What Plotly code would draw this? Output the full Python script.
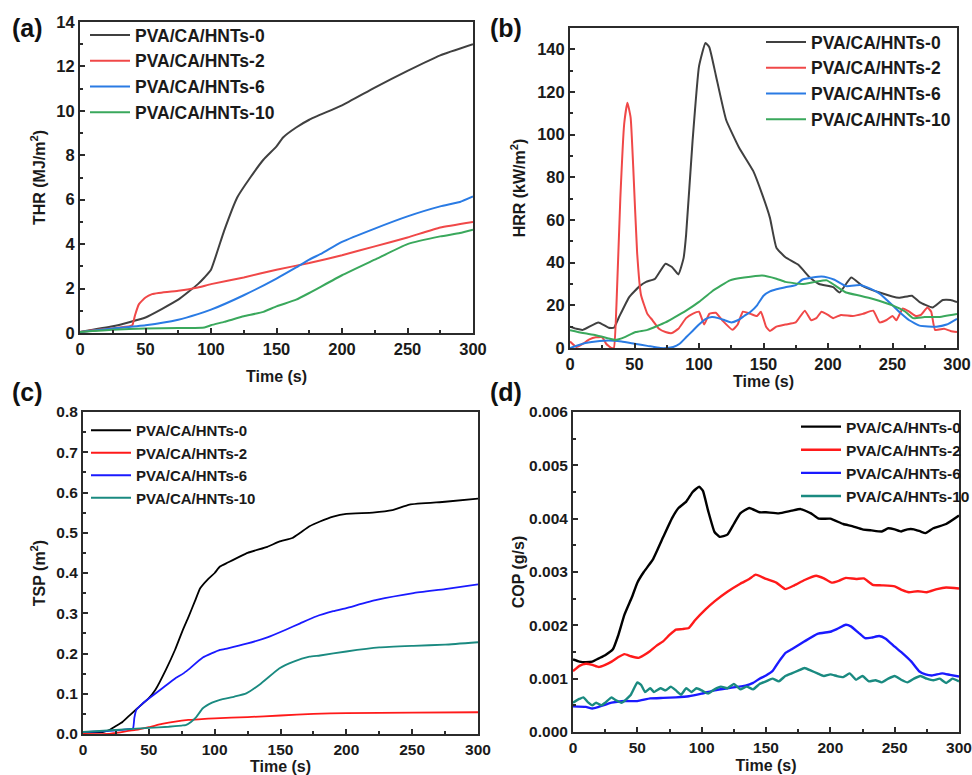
import plotly.graph_objects as go

# ---------------- data ----------------
names = ["PVA/CA/HNTs-0", "PVA/CA/HNTs-2", "PVA/CA/HNTs-6", "PVA/CA/HNTs-10"]

# (a) THR (MJ/m2)
thr0_t = [0, 25, 50, 75, 90, 95, 100, 110, 120, 130, 140, 150, 155, 165, 175, 200, 225, 250, 275, 300]
thr0_v = [0.05, 0.3, 0.7, 1.5, 2.2, 2.5, 2.85, 4.6, 6.1, 7.0, 7.8, 8.4, 8.8, 9.25, 9.6, 10.25, 11.05, 11.8, 12.5, 13.0]
thr2_t = [0, 38, 40, 42, 45, 50, 55, 60, 75, 90, 100, 125, 150, 175, 200, 225, 250, 275, 300]
thr2_v = [0.05, 0.3, 0.35, 0.8, 1.3, 1.6, 1.75, 1.8, 1.9, 2.05, 2.2, 2.5, 2.85, 3.15, 3.5, 3.9, 4.3, 4.75, 5.0]
thr6_t = [0, 25, 50, 75, 90, 100, 125, 150, 165, 175, 185, 200, 225, 250, 275, 290, 300]
thr6_v = [0.05, 0.2, 0.35, 0.6, 0.85, 1.05, 1.7, 2.45, 2.95, 3.3, 3.6, 4.1, 4.7, 5.25, 5.7, 5.9, 6.15]
thr10_t = [0, 25, 50, 75, 95, 100, 110, 125, 140, 150, 165, 175, 200, 225, 250, 275, 290, 300]
thr10_v = [0.05, 0.15, 0.2, 0.22, 0.25, 0.35, 0.5, 0.75, 0.95, 1.2, 1.5, 1.8, 2.6, 3.3, 4.0, 4.35, 4.5, 4.65]

# (b) HRR (kW/m2)
hrr0_t = [0, 5, 10, 22, 30, 34, 38, 46, 54, 59, 66, 74, 79, 84, 88, 90, 95, 100, 105, 108, 113, 121, 131, 142, 149, 155, 160, 167, 177, 186, 193, 204, 209, 218, 227, 240, 255, 265, 271, 281, 289, 295, 300]
hrr0_v = [10, 9, 8.5, 12, 9.5, 9.5, 14.5, 24, 29, 31, 32.5, 39.5, 38, 34.5, 42, 53, 97, 132, 143, 141, 128, 107, 94, 83, 72, 61, 47, 42.5, 39, 33, 30, 28.5, 26, 33, 29, 26, 23.5, 24.5, 21.5, 19, 22.5, 22.5, 21.5]
hrr2_t = [0, 5, 10, 15, 20, 25, 28, 32, 34, 36, 39, 42, 44.5, 47, 49, 52, 55, 60, 64, 69, 74, 79, 84, 90, 95, 100, 104, 108, 113, 118, 126, 130, 134, 140, 145, 148, 152, 155, 160, 167, 175, 182, 187, 191, 195, 200, 204, 210, 219, 227, 235, 240, 245, 250, 253, 258, 263, 268, 272, 277, 280, 283, 290, 295, 300]
hrr2_v = [3, 0.5, 2, 4, 5, 5, 2, 0, 0, 20, 70, 105, 115, 108, 85, 45, 25, 16, 13, 9, 7.5, 7, 9, 14, 16, 17, 11, 16, 16.5, 13, 8.5, 11, 17, 16, 15, 17, 10, 8, 10, 11, 12, 17.5, 13, 14, 17, 15.5, 14, 15.5, 15, 16, 17.5, 12, 13, 15, 13, 18.5, 17, 15, 15.5, 19, 17, 8.5, 9, 8, 7.5]
hrr6_t = [0, 10, 20, 30, 40, 50, 60, 70, 75, 80, 85, 90, 95, 100, 105, 110, 115, 120, 125, 130, 135, 140, 145, 150, 155, 160, 167, 175, 180, 188, 195, 200, 205, 214, 225, 230, 240, 250, 256, 263, 271, 284, 292, 300]
hrr6_v = [0, 2, 3, 3.5, 3, 2, 1, 0, 0, 0.5, 2, 5, 8, 11, 13.5, 14.5, 14, 13, 12, 13, 15, 17, 20, 24.5, 26.5, 27.5, 28.5, 29.5, 32, 33, 33.5, 33, 32, 29, 29.5, 28.5, 25.5, 20, 16.5, 13, 10.5, 10, 11, 13.7]
hrr10_t = [0, 10, 20, 30, 35, 40, 51, 60, 74, 80, 90, 100, 110, 124, 135, 149, 160, 167, 180, 190, 199, 205, 214, 225, 235, 250, 260, 266, 275, 285, 300]
hrr10_v = [8.3, 7, 6, 4.5, 3.8, 4.5, 7.5, 8.5, 12, 14, 17.5, 21.6, 26.5, 31.7, 33, 34, 32.5, 31, 30, 31, 31.7, 29.5, 26, 24.5, 23, 20, 17, 14, 14.5, 14.5, 16]

# (c) TSP (m2)
tsp0_t = [0, 15, 20, 25, 30, 35, 40, 50, 55, 63, 70, 76, 80, 85, 89, 95, 100, 104, 110, 125, 140, 149, 159, 165, 172, 180, 190, 200, 220, 235, 248, 275, 300]
tsp0_v = [0.005, 0.005, 0.01, 0.02, 0.03, 0.045, 0.06, 0.089, 0.11, 0.16, 0.21, 0.26, 0.29, 0.33, 0.362, 0.385, 0.40, 0.416, 0.426, 0.45, 0.465, 0.478, 0.487, 0.50, 0.516, 0.528, 0.54, 0.547, 0.55, 0.556, 0.57, 0.577, 0.585]
tsp2_t = [0, 20, 25, 40, 50, 60, 70, 80, 90, 100, 125, 150, 175, 200, 250, 300]
tsp2_v = [0.0, 0.0, 0.003, 0.01, 0.017, 0.025, 0.031, 0.035, 0.037, 0.039, 0.042, 0.046, 0.05, 0.052, 0.053, 0.054]
tsp6_t = [0, 20, 35, 38, 39, 40.5, 45, 50, 60, 70, 76, 80, 91, 104, 110, 125, 140, 154, 165, 177, 190, 200, 223, 251, 275, 300]
tsp6_v = [0.005, 0.008, 0.012, 0.014, 0.04, 0.06, 0.075, 0.088, 0.113, 0.138, 0.150, 0.16, 0.19, 0.209, 0.213, 0.225, 0.24, 0.259, 0.275, 0.292, 0.305, 0.313, 0.333, 0.35, 0.36, 0.372]
tsp10_t = [0, 25, 50, 65, 75, 78, 82, 86, 91, 98, 104, 115, 124, 135, 149, 160, 172, 180, 200, 225, 251, 275, 300]
tsp10_v = [0.005, 0.01, 0.015, 0.018, 0.021, 0.022, 0.03, 0.042, 0.064, 0.078, 0.085, 0.093, 0.101, 0.125, 0.163, 0.18, 0.192, 0.195, 0.205, 0.215, 0.219, 0.222, 0.228]

# (d) COP (g/s)
cop0_t = [0, 5, 10, 15, 20, 25, 31, 35, 40, 46, 50, 55, 62, 70, 77, 82, 88, 93, 98, 101, 105, 110, 114, 120, 125, 130, 137, 145, 150, 160, 170, 177, 185, 191, 200, 210, 217, 225, 232, 240, 245, 250, 255, 260, 265, 270, 274, 280, 290, 300]
cop0_v = [0.00136, 0.00132, 0.00131, 0.00132, 0.00138, 0.00144, 0.00155, 0.0018, 0.0022, 0.00254, 0.0028, 0.0030, 0.00323, 0.00365, 0.00401, 0.00420, 0.00432, 0.00450, 0.00460, 0.00452, 0.00415, 0.00375, 0.00366, 0.00370, 0.00390, 0.00410, 0.00420, 0.00412, 0.00412, 0.00410, 0.00415, 0.00418, 0.00410, 0.00400, 0.00400, 0.00390, 0.00386, 0.00380, 0.00378, 0.00376, 0.00382, 0.00380, 0.00376, 0.00380, 0.00380, 0.00376, 0.00373, 0.00382, 0.00390, 0.00406]
cop2_t = [0, 5, 10, 15, 20, 25, 30, 35, 40, 45, 51, 55, 60, 65, 70, 75, 80, 85, 90, 95, 103, 110, 120, 130, 137, 142, 150, 158, 165, 172, 180, 189, 195, 201, 207, 212, 220, 226, 233, 240, 250, 256, 261, 268, 275, 283, 290, 300]
cop2_v = [0.00114, 0.00124, 0.00128, 0.00126, 0.00122, 0.00126, 0.00132, 0.00140, 0.00146, 0.00142, 0.00139, 0.00144, 0.00152, 0.00162, 0.00170, 0.00182, 0.00192, 0.00193, 0.00195, 0.00210, 0.00230, 0.00245, 0.00263, 0.00278, 0.00287, 0.00295, 0.00287, 0.00280, 0.00268, 0.00275, 0.00285, 0.00293, 0.00288, 0.00280, 0.00284, 0.00289, 0.00287, 0.00288, 0.00276, 0.00275, 0.00273, 0.00266, 0.00262, 0.00264, 0.00262, 0.00268, 0.00271, 0.00269]
cop6_t = [0, 10, 15, 20, 30, 40, 50, 60, 70, 80, 90, 100, 110, 120, 134, 140, 145, 150, 155, 160, 165, 170, 180, 190, 200, 205, 212, 216, 222, 227, 232, 238, 243, 250, 256, 263, 269, 274, 279, 287, 293, 300]
cop6_v = [0.00048, 0.00047, 0.00044, 0.00047, 0.00055, 0.00058, 0.00058, 0.00063, 0.00064, 0.00065, 0.00067, 0.00072, 0.00078, 0.00082, 0.00087, 0.00092, 0.00100, 0.00106, 0.00114, 0.00132, 0.00148, 0.00155, 0.00170, 0.00184, 0.00188, 0.00193, 0.00201, 0.00198, 0.00186, 0.00176, 0.00177, 0.00180, 0.00175, 0.00160, 0.00148, 0.00132, 0.00114, 0.00108, 0.00106, 0.00110, 0.00107, 0.00104]
cop10_t = [0, 5, 8, 12, 15, 18, 22, 25, 30, 33, 38, 45, 50, 53, 56, 60, 63, 68, 72, 76, 80, 84, 88, 92, 96, 100, 105, 110, 115, 120, 125, 130, 135, 140, 145, 150, 155, 160, 165, 170, 175, 180, 185, 190, 195, 200, 205, 210, 215, 220, 225, 230, 235, 240, 245, 250, 255, 260, 265, 270, 275, 280, 285, 290, 295, 300]
cop10_v = [0.00055, 0.00062, 0.00065, 0.00055, 0.0005, 0.00055, 0.0005, 0.00055, 0.00065, 0.0006, 0.00055, 0.0007, 0.00093, 0.00088, 0.00075, 0.00082, 0.00075, 0.00082, 0.00078, 0.00085, 0.00078, 0.0007, 0.00082, 0.00075, 0.00082, 0.00078, 0.00072, 0.0008, 0.00085, 0.00082, 0.0009, 0.0008, 0.00085, 0.0008, 0.0009, 0.00095, 0.001, 0.00095, 0.00105, 0.0011, 0.00115, 0.0012, 0.00115, 0.0011, 0.00105, 0.00108, 0.00105, 0.00103, 0.0011, 0.00098, 0.00105, 0.00095, 0.00097, 0.00093, 0.001, 0.00105, 0.00098, 0.00093, 0.001, 0.00105, 0.001, 0.00097, 0.001, 0.00092, 0.001, 0.00095]

x_ticks = [0, 50, 100, 150, 200, 250, 300]

# ---------------- styling ----------------
colors_ab = ["#404040", "#f04848", "#2a7be4", "#3aa85c"]
colors_cd = ["#000000", "#ff1a1a", "#1a1aff", "#1a8a80"]
FONT = "Liberation Sans, Arial, sans-serif"

fig = go.Figure()

panels = [
    dict(xa="x", ya="y", leg="legend", data=[(thr0_t, thr0_v), (thr2_t, thr2_v), (thr6_t, thr6_v), (thr10_t, thr10_v)], colors=colors_ab, width=2),
    dict(xa="x2", ya="y2", leg="legend2", data=[(hrr0_t, hrr0_v), (hrr2_t, hrr2_v), (hrr6_t, hrr6_v), (hrr10_t, hrr10_v)], colors=colors_ab, width=2),
    dict(xa="x3", ya="y3", leg="legend3", data=[(tsp0_t, tsp0_v), (tsp2_t, tsp2_v), (tsp6_t, tsp6_v), (tsp10_t, tsp10_v)], colors=colors_cd, width=1.8),
    dict(xa="x4", ya="y4", leg="legend4", data=[(cop0_t, cop0_v), (cop2_t, cop2_v), (cop6_t, cop6_v), (cop10_t, cop10_v)], colors=colors_cd, width=2.4),
]
for p in panels:
    for (t, v), name, c in zip(p["data"], names, p["colors"]):
        fig.add_trace(go.Scatter(x=t, y=v, mode="lines", name=name, xaxis=p["xa"], yaxis=p["ya"],
                                 legend=p["leg"], line=dict(color=c, width=p["width"], shape="spline", smoothing=0.4)))

W, H = 972, 775
def dx(a, b):
    return [a / W, b / W]
def dy(top, bot):
    return [1 - bot / H, 1 - top / H]

axis_common = dict(showline=True, linecolor="#2b2b2b", linewidth=2, mirror=True, ticks="inside", ticklen=5,
                   tickwidth=1.5, tickcolor="#2b2b2b", showgrid=False, zeroline=False, automargin=False,
                   minor=dict(ticks="inside", ticklen=3, tickwidth=1.5, tickcolor="#2b2b2b", showgrid=False))
title_font = dict(family=FONT, size=16, color="#1a1a1a", weight="bold")

def tfont(size):
    return dict(family=FONT, size=size, color="#1a1a1a", weight="bold")

def xaxis(dom, anchor, standoff, fs):
    return dict(axis_common, domain=dom, anchor=anchor, range=[0, 300], tickvals=x_ticks, dtick=50,
                tickfont=tfont(fs),
                minor=dict(axis_common["minor"], dtick=25, tick0=0),
                title=dict(text="Time (s)", font=title_font, standoff=standoff))

def yaxis(dom, anchor, rng, dtick, fmt, title, standoff, fs):
    return dict(axis_common, domain=dom, anchor=anchor, range=rng, dtick=dtick, tick0=0, tickformat=fmt,
                tickfont=tfont(fs),
                minor=dict(axis_common["minor"], dtick=dtick / 2, tick0=0),
                title=dict(text=title, font=title_font, standoff=standoff))

fig.update_layout(
    width=W, height=H, margin=dict(l=0, r=0, t=0, b=0, pad=0, autoexpand=False),
    paper_bgcolor="white", plot_bgcolor="white",
    xaxis=xaxis(dx(80, 473), "y", 14, 16.5),
    yaxis=yaxis(dy(22, 333), "x", [0, 14], 2, "d", "THR (MJ/m<sup>2</sup>)", 7, 16.5),
    xaxis2=xaxis(dx(570, 957), "y2", 4, 16.5),
    yaxis2=yaxis(dy(28, 348), "x2", [0, 150], 20, "d", "HRR (kW/m<sup>2</sup>)", 8, 16.5),
    xaxis3=xaxis(dx(83, 478), "y3", 3, 15.5),
    yaxis3=yaxis(dy(412, 734), "x3", [0, 0.8], 0.1, ".1f", "TSP (m<sup>2</sup>)", 7, 15.5),
    xaxis4=xaxis(dx(573, 959), "y4", 5, 15.5),
    yaxis4=yaxis(dy(412, 732), "x4", [0, 0.006], 0.001, ".3f", "COP (g/s)", 1, 15.5),
)

leg_common = dict(bgcolor="rgba(0,0,0,0)", borderwidth=0, tracegroupgap=0, itemwidth=40,
                  xanchor="left", yanchor="top")
fig.update_layout(
    legend=dict(leg_common, x=85 / W, y=1 - 17 / H, font=dict(family=FONT, size=17.5, color="#1a1a1a", weight="bold")),
    legend2=dict(leg_common, x=761 / W, y=1 - 24 / H, font=dict(family=FONT, size=17.5, color="#1a1a1a", weight="bold")),
    legend3=dict(leg_common, x=86 / W, y=1 - 414 / H, font=dict(family=FONT, size=15, color="#1a1a1a", weight="bold")),
    legend4=dict(leg_common, x=796 / W, y=1 - 410 / H, font=dict(family=FONT, size=15.5, color="#1a1a1a", weight="bold")),
)

for lab, x, y in [("(a)", 27, 28), ("(b)", 506, 28), ("(c)", 27, 392), ("(d)", 506, 392)]:
    fig.add_annotation(text=lab, x=x / W, y=1 - y / H, xref="paper", yref="paper", showarrow=False,
                       xanchor="center", yanchor="middle",
                       font=dict(family=FONT, size=25, color="#111111", weight="bold"))

fig.write_html("out.html", config={"displayModeBar": False},
               post_script="document.body.style.margin='0';")
